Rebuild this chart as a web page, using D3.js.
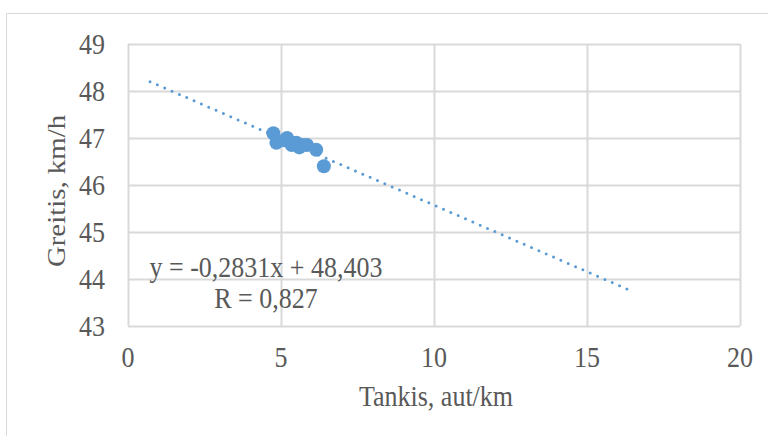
<!DOCTYPE html>
<html>
<head>
<meta charset="utf-8">
<script src="https://cdn.jsdelivr.net/npm/d3@7"></script>
<style>
  body { margin: 0; background: #fff; }
  text { font-family: "Liberation Serif", "Times New Roman", serif; fill: #595959; font-size: 26px; }
</style>
</head>
<body>
<svg width="768" height="436"></svg>
<script>
// data
var density = [4.75, 4.85, 5.1, 5.2, 5.35, 5.5, 5.6, 5.7, 5.85, 6.15, 6.4];
var speed = [47.1, 46.9, 46.95, 47.0, 46.85, 46.9, 46.8, 46.85, 46.85, 46.75, 46.4];
var xTicks = [0, 5, 10, 15, 20];
var yTicks = [43, 44, 45, 46, 47, 48, 49];
// trendline (from the equation shown) and its x range
var slope = -0.2831, intercept = 48.403;
var trendX = [0.72, 16.45];

var svg = d3.select("svg"),
    margin = {top: 44, right: 28, bottom: 110, left: 128},
    width = 740 - margin.left,
    height = 326 - margin.top;

// text in the picture is a bit taller than wide
var stretch = " scale(1,1.11)";

// outer chart border
svg.append("path")
    .attr("d", "M6.5,436 V13.5 H768")
    .attr("fill", "none")
    .attr("stroke", "#d9d9d9")
    .attr("stroke-width", 1);

var x = d3.scaleLinear().domain([0, 20]).range([0, width]),
    y = d3.scaleLinear().domain([43, 49]).range([height, 0]);

var g = svg.append("g")
    .attr("transform", "translate(" + margin.left + "," + margin.top + ")");

// gridlines
g.selectAll(".hgrid")
    .data(yTicks)
    .enter().append("line")
    .attr("x1", 0).attr("x2", width)
    .attr("y1", function(d) { return Math.round(y(d)) + 0.5; })
    .attr("y2", function(d) { return Math.round(y(d)) + 0.5; })
    .attr("stroke", "#d9d9d9")
    .attr("stroke-width", 2);

g.selectAll(".vgrid")
    .data(xTicks)
    .enter().append("line")
    .attr("y1", 0).attr("y2", height)
    .attr("x1", function(d) { return Math.round(x(d)) + 0.5; })
    .attr("x2", function(d) { return Math.round(x(d)) + 0.5; })
    .attr("stroke", "#d9d9d9")
    .attr("stroke-width", 2);

// tick labels
g.selectAll(".ylab")
    .data(yTicks)
    .enter().append("text")
    .attr("transform", function(d) { return "translate(-23," + (y(d) + 10) + ")" + stretch; })
    .style("text-anchor", "end")
    .text(function(d) { return d; });

g.selectAll(".xlab")
    .data(xTicks)
    .enter().append("text")
    .attr("transform", function(d) { return "translate(" + x(d) + "," + (height + 41) + ")" + stretch; })
    .style("text-anchor", "middle")
    .text(function(d) { return d; });

// axis titles
svg.append("text")
    .attr("transform", "translate(436,406)" + stretch)
    .style("text-anchor", "middle")
    .text("Tankis, aut/km");

svg.append("text")
    .attr("transform", "translate(65,191)" + stretch + " rotate(-90)")
    .style("text-anchor", "middle")
    .text("Greitis, km/h");

// points
g.selectAll(".dot")
    .data(density)
    .enter().append("circle")
    .attr("cx", function(d) { return x(d); })
    .attr("cy", function(d, i) { return y(speed[i]); })
    .attr("r", 7)
    .attr("fill", "#5b9bd5");

// trendline
var line = d3.line()
    .x(function(d) { return x(d); })
    .y(function(d) { return y(slope * d + intercept); });

g.append("path")
    .datum(trendX)
    .attr("d", line)
    .attr("fill", "none")
    .attr("stroke", "#5b9bd5")
    .attr("stroke-width", 3)
    .attr("stroke-linecap", "round")
    .attr("stroke-dasharray", "0,8");

// equation label
svg.append("text")
    .attr("transform", "translate(266,277)" + stretch)
    .style("text-anchor", "middle")
    .text("y = -0,2831x + 48,403");

svg.append("text")
    .attr("transform", "translate(266,308)" + stretch)
    .style("text-anchor", "middle")
    .text("R = 0,827");
</script>
</body>
</html>
